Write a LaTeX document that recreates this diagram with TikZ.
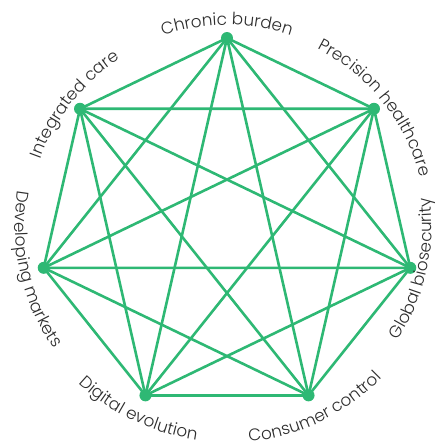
\documentclass[tikz,border=0pt]{standalone}
\usepackage{fontspec}
\setmainfont{Poppins}[UprightFont=* Light]
\usetikzlibrary{decorations.text,backgrounds}
\definecolor{edgegreen}{RGB}{46,184,116}
\definecolor{labelgray}{RGB}{45,45,45}
\newcommand\lblfont{\fontsize{16.8}{19}\selectfont}
\tikzset{
  vdot/.style={circle, fill=edgegreen, minimum size=12pt, inner sep=0pt},
  edgeline/.style={draw=edgegreen, line width=2.6pt},
}
\newcommand\cwlbl[3]{\path[decorate,decoration={text along path,text align=center,text color=labelgray,text={|\lblfont|#3}}] ({#1+50}:#2) arc[start angle={#1+50}, end angle={#1-50}, radius=#2];}
\newcommand\ccwlbl[3]{\path[decorate,decoration={text along path,text align=center,text color=labelgray,text={|\lblfont|#3}}] ({#1-50}:#2) arc[start angle={#1-50}, end angle={#1+50}, radius=#2];}
\begin{document}
\begin{tikzpicture}
\useasboundingbox (-227pt,-219pt) rectangle (217pt,226pt);
\foreach \k in {0,...,6} {
  \node[vdot] (n\k) at ({90-\k*360/7}:188pt) {};
}
\begin{pgfonlayer}{background}
\foreach \a in {0,...,6} {
  \foreach \b in {0,...,6} {
    \ifnum\a<\b \draw[edgeline] (n\a.center) -- (n\b.center); \fi
  }
}
\end{pgfonlayer}
\cwlbl{90}{201pt}{Chronic burden}
\cwlbl{38.571}{199pt}{Precision healthcare}
\ccwlbl{-12.857}{205pt}{Global biosecurity}
\ccwlbl{-64.286}{217pt}{Consumer control}
\ccwlbl{-115.714}{216pt}{Digital evolution}
\ccwlbl{-167.143}{212pt}{Developing markets}
\cwlbl{141.429}{198pt}{Integrated care}
\end{tikzpicture}
\end{document}
